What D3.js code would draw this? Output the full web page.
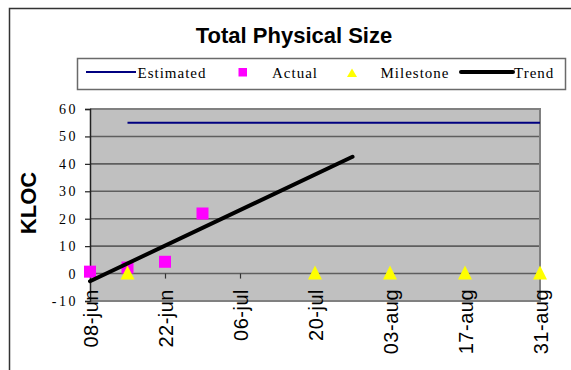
<!DOCTYPE html>
<html>
<head>
<meta charset="utf-8">
<script src="https://cdn.jsdelivr.net/npm/d3@7"></script>
<style>
  html, body { margin: 0; padding: 0; background: #fff; }
  svg { display: block; }
</style>
</head>
<body>
<svg id="chart" width="571" height="370"></svg>
<script>
// ---- data ----
const tickDates = ["2000-06-08", "2000-06-22", "2000-07-06", "2000-07-20", "2000-08-03", "2000-08-17", "2000-08-31"];
const yTicks = [-10, 0, 10, 20, 30, 40, 50, 60];

const estimatedDates = ["2000-06-15", "2000-06-22", "2000-06-29", "2000-07-06", "2000-07-13", "2000-07-20",
                        "2000-07-27", "2000-08-03", "2000-08-10", "2000-08-17", "2000-08-24", "2000-08-31"];
const estimatedValues = [55, 55, 55, 55, 55, 55, 55, 55, 55, 55, 55, 55];

const actualDates = ["2000-06-08", "2000-06-15", "2000-06-22", "2000-06-29"];
const actualValues = [0.7, 2.2, 4.3, 21.9];

const milestoneDates = ["2000-06-15", "2000-07-20", "2000-08-03", "2000-08-17", "2000-08-31"];
const milestoneValues = [0, 0, 0, 0, 0];

const trendDates = ["2000-06-08", "2000-07-27"];
const trendValues = [-2.8, 42.6];

// ---- setup ----
const parse = d3.timeParse("%Y-%m-%d");
const fmt = d => d3.timeFormat("%d-%b")(d).toLowerCase();
const zip = (ds, vs) => ds.map((d, i) => ({ date: parse(d), value: vs[i] }));

const estimated = zip(estimatedDates, estimatedValues);
const actual = zip(actualDates, actualValues);
const milestones = zip(milestoneDates, milestoneValues);
const trend = zip(trendDates, trendValues);

const plot = { left: 90, right: 540, top: 109, bottom: 301 };

const x = d3.scaleTime()
  .domain([parse(tickDates[0]), parse(tickDates[tickDates.length - 1])])
  .range([plot.left, plot.right]);
const y = d3.scaleLinear()
  .domain([-10, 60])
  .range([plot.bottom, plot.top]);

const svg = d3.select("#chart");

// outer chart frame
svg.append("rect")
  .attr("x", 9.5).attr("y", 8.5)
  .attr("width", 563).attr("height", 380)
  .attr("fill", "#fff")
  .attr("stroke", "#333").attr("stroke-width", 1.5);

// title
svg.append("text")
  .attr("x", 294).attr("y", 43)
  .attr("text-anchor", "middle")
  .attr("font-family", "Liberation Sans, Arial, sans-serif")
  .attr("font-weight", "bold")
  .attr("font-size", 22)
  .attr("fill", "#000")
  .text("Total Physical Size");

// plot background
svg.append("rect")
  .attr("x", plot.left).attr("y", plot.top)
  .attr("width", plot.right - plot.left).attr("height", plot.bottom - plot.top)
  .attr("fill", "#c0c0c0");

// horizontal gridlines
svg.append("g")
  .selectAll("line")
  .data(yTicks.filter(v => v > -10 && v < 60))
  .join("line")
  .attr("x1", plot.left).attr("x2", plot.right)
  .attr("y1", d => y(d)).attr("y2", d => y(d))
  .attr("stroke", "#5e5e5e").attr("stroke-width", 1.6);

// plot border (top, right, bottom)
svg.append("path")
  .attr("d", `M${plot.left},${plot.top}H${plot.right}V${plot.bottom}H${plot.left}`)
  .attr("fill", "none")
  .attr("stroke", "#808080").attr("stroke-width", 2);

// y axis
const yAxis = d3.axisLeft(y).tickValues(yTicks).tickSize(5).tickFormat(d => String(d));
const gy = svg.append("g")
  .attr("transform", `translate(${plot.left},0)`)
  .call(yAxis);
gy.select(".domain").attr("stroke", "#222").attr("stroke-width", 1.5);
gy.selectAll(".tick line").attr("stroke", "#222").attr("stroke-width", 1.2);
gy.selectAll(".tick text")
  .attr("x", -12)
  .attr("font-family", "Liberation Serif, Times New Roman, serif")
  .attr("font-size", 14)
  .attr("letter-spacing", 2.5)
  .attr("fill", "#000");

// x axis along the zero line
const xAxis = d3.axisBottom(x).tickValues(tickDates.map(parse)).tickSize(5).tickFormat(fmt);
const gx = svg.append("g")
  .attr("transform", `translate(0,${y(0)})`)
  .call(xAxis);
gx.select(".domain").remove();
gx.selectAll(".tick line").attr("stroke", "#333").attr("stroke-width", 1.2);
gx.selectAll(".tick text")
  .attr("font-family", "Liberation Sans, Arial, sans-serif")
  .attr("font-size", 20)
  .attr("letter-spacing", 0.5)
  .attr("fill", "#000")
  .attr("text-anchor", "end")
  .attr("transform", "rotate(-90)")
  .attr("x", -(289 - y(0)))
  .attr("y", 0)
  .attr("dy", "0.35em");

// axis title
svg.append("text")
  .attr("transform", "translate(36,203) rotate(-90)")
  .attr("text-anchor", "middle")
  .attr("font-family", "Liberation Sans, Arial, sans-serif")
  .attr("font-weight", "bold")
  .attr("font-size", 22)
  .attr("fill", "#000")
  .text("KLOC");

// estimated
const line = d3.line().x(d => x(d.date)).y(d => y(d.value));
svg.append("path")
  .datum(estimated)
  .attr("d", line)
  .attr("fill", "none")
  .attr("stroke", "#000080").attr("stroke-width", 2);

// actual
const sq = 12;
svg.append("g")
  .selectAll("rect")
  .data(actual)
  .join("rect")
  .attr("x", d => x(d.date) - sq / 2)
  .attr("y", d => y(d.value) - sq / 2)
  .attr("width", sq).attr("height", sq)
  .attr("fill", "#ff00ff");

// milestones
svg.append("g")
  .selectAll("path")
  .data(milestones)
  .join("path")
  .attr("transform", d => `translate(${x(d.date)},${y(d.value)})`)
  .attr("d", "M0,-8L7,6L-7,6Z")
  .attr("fill", "#ffff00");

// trend
svg.append("path")
  .datum(trend)
  .attr("d", line)
  .attr("fill", "none")
  .attr("stroke", "#000").attr("stroke-width", 4)
  .attr("stroke-linecap", "round");

// legend
const lg = svg.append("g");
lg.append("rect")
  .attr("x", 77.5).attr("y", 58.5)
  .attr("width", 488).attr("height", 31)
  .attr("fill", "#fff")
  .attr("stroke", "#6a6a6a").attr("stroke-width", 1.5);

const legendText = (tx, label) => lg.append("text")
  .attr("x", tx).attr("y", 77.5)
  .attr("font-family", "Liberation Serif, Times New Roman, serif")
  .attr("font-size", 15)
  .attr("letter-spacing", 1)
  .attr("fill", "#000")
  .text(label);

lg.append("line").attr("x1", 86).attr("x2", 136).attr("y1", 72).attr("y2", 72)
  .attr("stroke", "#000080").attr("stroke-width", 2);
legendText(137.5, "Estimated");

lg.append("rect").attr("x", 238.5).attr("y", 68).attr("width", 8.5).attr("height", 8.5)
  .attr("fill", "#ff00ff");
legendText(272, "Actual");

lg.append("path").attr("transform", "translate(352,73)")
  .attr("d", "M0,-4.5L5,4L-5,4Z").attr("fill", "#ffff00");
legendText(380.5, "Milestone");

lg.append("line").attr("x1", 461).attr("x2", 513).attr("y1", 72).attr("y2", 72)
  .attr("stroke", "#000").attr("stroke-width", 4).attr("stroke-linecap", "round");
legendText(514, "Trend");
</script>
</body>
</html>
